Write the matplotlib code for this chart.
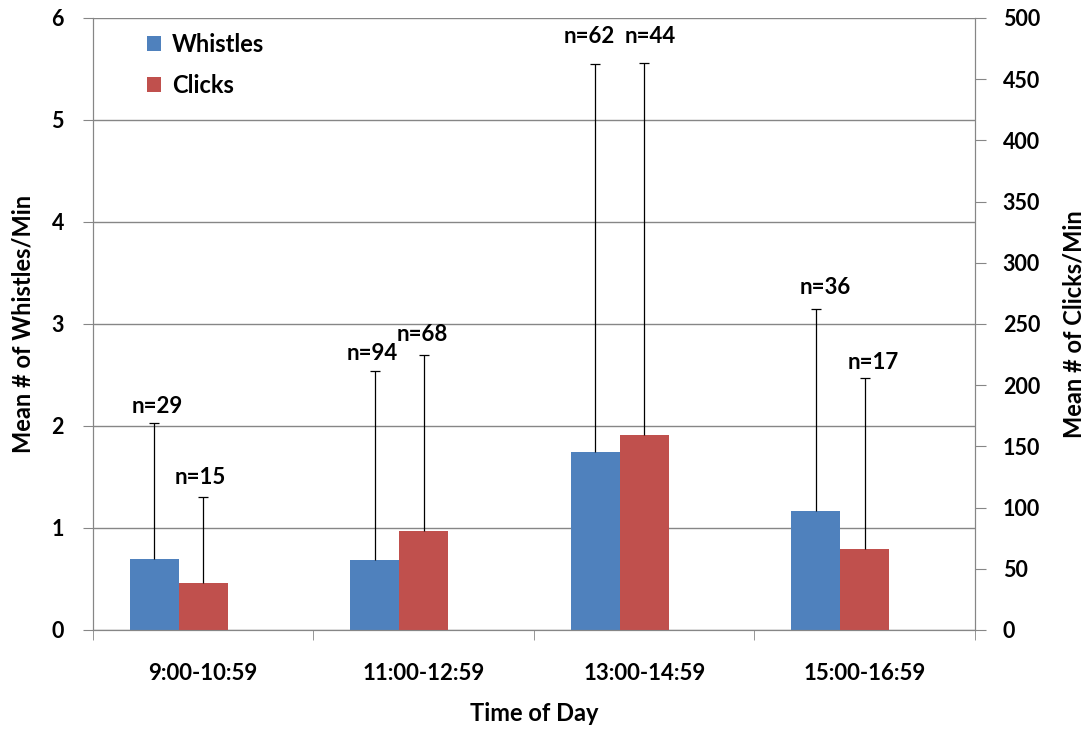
import numpy as np
import matplotlib
matplotlib.use('Agg')
import matplotlib.pyplot as plt

plt.rcParams['font.family'] = ['Lato', 'DejaVu Sans']

# данные
categories = ['9:00-10:59', '11:00-12:59', '13:00-14:59', '15:00-16:59']
whistles = [0.70, 0.69, 1.745, 1.17]
whistles_err = [1.33, 1.85, 3.80, 1.98]
clicks = [38.7, 80.9, 159.3, 66.0]
clicks_err = [69.7, 143.8, 303.7, 140.0]
n_whistles = ['n=29', 'n=94', 'n=62', 'n=36']
n_clicks = ['n=15', 'n=68', 'n=44', 'n=17']

# смещения подписей (пункты) относительно конца уса
off_whistles = [(2, 12), (-1.5, 12.5), (-4, 20), (6.5, 15)]
off_clicks = [(-2, 14), (-1, 15), (4.5, 19.5), (6, 11)]

blue = '#4F81BD'
red = '#C0504D'
gray = '#868686'

fig = plt.figure(figsize=(10.85, 7.31), dpi=100)
ax1 = fig.add_axes([0.0857, 0.1382, 0.8129, 0.8372])
ax2 = ax1.twinx()

x = np.arange(len(categories))
w = 0.222

ax1.set_axisbelow(True)
ax1.yaxis.grid(True, color=gray, linewidth=1)
ekw = dict(ecolor='black', elinewidth=0.9, capthick=0.9)
b1 = ax1.bar(x - w, whistles, w, color=blue, label='Whistles',
             yerr=[np.zeros(len(x)), whistles_err], capsize=3.5, error_kw=ekw)
b2 = ax2.bar(x, clicks, w, color=red, label='Clicks',
             yerr=[np.zeros(len(x)), clicks_err], capsize=3.5, error_kw=ekw)
# только верхние усы
for b in (b1, b2):
    b.errorbar.lines[1][0].set_visible(False)

ax1.set_xlim(-0.5, 3.5)
ax1.set_ylim(0, 6)
ax2.set_ylim(0, 500)
ax1.set_yticks(range(0, 7))
ax2.set_yticks(range(0, 501, 50))

ax1.set_xticks(x)
ax1.set_xticklabels(categories, fontsize=16, fontweight='bold')
ax1.set_xticks(np.arange(-0.5, 4, 1), minor=True)
ax1.tick_params(axis='x', which='major', length=0, pad=24)
ax1.tick_params(axis='x', which='minor', length=7, color=gray)
ax1.tick_params(axis='y', length=7, color=gray, labelsize=15.5, pad=14)
ax2.tick_params(axis='y', length=8, color=gray, labelsize=15.5, pad=12)
for lab in ax1.get_yticklabels() + ax2.get_yticklabels():
    lab.set_fontweight('bold')

for ax in (ax1, ax2):
    for s in ax.spines.values():
        s.set_color(gray)
    ax.spines['top'].set_visible(False)

ax1.set_xlabel('Time of Day', fontsize=17, fontweight='bold', labelpad=13)
ax1.set_ylabel('Mean # of Whistles/Min', fontsize=17, fontweight='bold', labelpad=12)
ax2.set_ylabel('Mean # of Clicks/Min', fontsize=17, fontweight='bold', labelpad=16)

# подписи n над усами
for i in range(len(x)):
    ax1.annotate(n_whistles[i], (x[i] - w, whistles[i] + whistles_err[i]),
                 xytext=off_whistles[i], textcoords='offset points',
                 ha='center', va='center', fontsize=16, fontweight='bold')
    ax2.annotate(n_clicks[i], (x[i], clicks[i] + clicks_err[i]),
                 xytext=off_clicks[i], textcoords='offset points',
                 ha='center', va='center', fontsize=16, fontweight='bold')

leg = ax1.legend([b1, b2], ['Whistles', 'Clicks'], loc='upper left',
                 bbox_to_anchor=(0.037, 1.01), frameon=False,
                 prop=dict(size=17, weight='bold'), handlelength=0.6,
                 handleheight=0.6, labelspacing=0.75, handletextpad=0.45)

fig.savefig('out.png', dpi=100)
